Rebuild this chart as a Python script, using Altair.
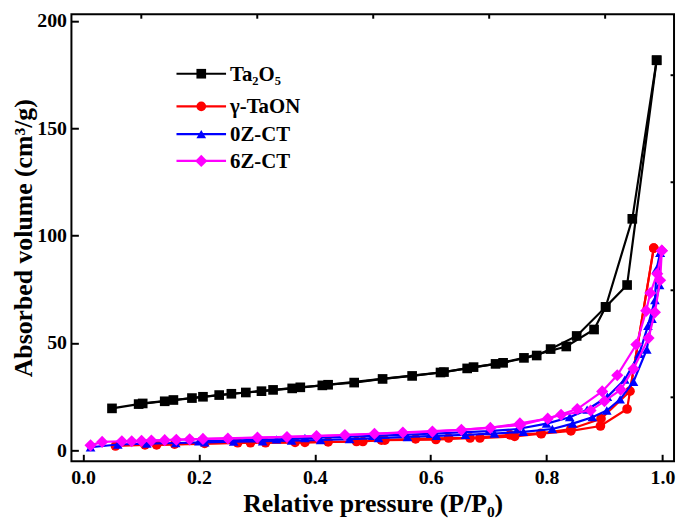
import altair as alt
import pandas as pd

# ---- data ----
series_names = ["Ta₂O₅", "γ-TaON", "0Z-CT", "6Z-CT"]
series_colors = ["#000000", "#ff0000", "#0000ff", "#ff00ff"]
series_shapes = ["square", "circle", "triangle-up", "diamond"]
series_sizes = [95, 95, 95, 150]

# Ta2O5
ta_ads_p = [0.050, 0.096, 0.141, 0.188, 0.235, 0.281, 0.328, 0.375, 0.423, 0.468, 0.517,
            0.568, 0.617, 0.663, 0.712, 0.761, 0.834, 0.882, 0.902, 0.939, 0.990]
ta_ads_v = [19.6, 21.6, 22.9, 24.4, 25.8, 27.0, 28.2, 29.4, 30.6, 31.6, 33.3,
            34.7, 36.3, 38.2, 40.3, 43.1, 48.4, 56.3, 66.8, 77.0, 181.6]
ta_des_p = [0.990, 0.948, 0.902, 0.852, 0.807, 0.783, 0.725, 0.674, 0.623, 0.413,
            0.361, 0.308, 0.256, 0.207, 0.156, 0.103]
ta_des_v = [181.6, 107.8, 66.8, 53.3, 47.2, 44.2, 40.8, 38.8, 36.5, 30.3,
            28.9, 27.6, 26.4, 25.0, 23.5, 21.9]

# gamma-TaON
tn_ads_p = [0.056, 0.107, 0.158, 0.210, 0.267, 0.315, 0.366, 0.423, 0.472, 0.521, 0.574,
            0.631, 0.685, 0.745, 0.791, 0.842, 0.893, 0.939, 0.985]
tn_ads_v = [2.1, 2.6, 3.0, 3.3, 3.6, 3.6, 3.8, 4.0, 4.2, 4.8, 5.4,
            5.8, 5.8, 6.6, 7.8, 9.1, 11.4, 19.3, 94.2]
tn_des_p = [0.985, 0.944, 0.894, 0.842, 0.790, 0.737, 0.668, 0.609, 0.515, 0.483,
            0.383, 0.289, 0.127]
tn_des_v = [94.2, 27.6, 14.8, 10.0, 8.0, 7.3, 5.8, 5.1, 4.8, 4.2, 3.8, 3.6, 2.6]

# 0Z-CT
z0_ads_p = [0.013, 0.060, 0.110, 0.160, 0.210, 0.260, 0.310, 0.360, 0.410, 0.460, 0.510,
            0.560, 0.610, 0.660, 0.710, 0.760, 0.810, 0.845, 0.879, 0.904, 0.927, 0.950,
            0.973, 0.982, 0.995, 0.996]
z0_ads_v = [1.5, 2.8, 3.2, 3.5, 3.8, 4.1, 4.3, 4.6, 4.9, 5.3, 5.8,
            6.3, 6.8, 7.3, 7.9, 8.7, 10.0, 12.5, 15.5, 18.6, 23.8, 32.0,
            47.0, 61.3, 77.0, 92.0]
z0_des_p = [0.996, 0.990, 0.987, 0.975, 0.960, 0.935, 0.905, 0.870, 0.840, 0.800,
            0.750, 0.700, 0.600, 0.500, 0.383, 0.334, 0.200]
z0_des_v = [92.0, 84.5, 70.0, 58.0, 45.0, 33.0, 25.0, 19.0, 15.5, 12.5,
            10.0, 9.0, 7.8, 6.8, 5.8, 5.2, 4.3]

# 6Z-CT
z6_ads_p = [0.013, 0.033, 0.067, 0.101, 0.141, 0.184, 0.250, 0.352, 0.452, 0.552, 0.653,
            0.754, 0.825, 0.876, 0.900, 0.928, 0.950, 0.976, 0.987, 0.996, 0.999]
z6_ads_v = [2.4, 4.0, 4.3, 4.5, 4.8, 5.2, 5.6, 6.3, 7.2, 8.4, 9.6,
            11.8, 16.6, 18.6, 23.0, 28.3, 38.0, 52.3, 64.3, 79.2, 93.0]
z6_des_p = [0.999, 0.991, 0.979, 0.972, 0.955, 0.922, 0.896, 0.853, 0.802, 0.754,
            0.703, 0.603, 0.503, 0.403, 0.301, 0.207, 0.161, 0.118, 0.084]
z6_des_v = [93.0, 82.2, 73.3, 65.0, 49.3, 35.0, 27.5, 19.3, 14.8, 12.6,
            10.5, 8.8, 7.8, 6.7, 6.0, 5.4, 5.0, 4.6, 4.3]

x_major = [0.0, 0.2, 0.4, 0.6, 0.8, 1.0]
x_minor = [0.1, 0.3, 0.5, 0.7, 0.9]
y_major = [0, 50, 100, 150, 200]
y_minor = [25, 75, 125, 175]

branches = [
    (ta_ads_p, ta_ads_v, ta_des_p, ta_des_v),
    (tn_ads_p, tn_ads_v, tn_des_p, tn_des_v),
    (z0_ads_p, z0_ads_v, z0_des_p, z0_des_v),
    (z6_ads_p, z6_ads_v, z6_des_p, z6_des_v),
]

FONT = "Liberation Serif"
xs = alt.Scale(domain=[-0.02, 1.02], nice=False, zero=False)
ys = alt.Scale(domain=[-5, 203], nice=False, zero=False)

main_x_axis = alt.Axis(values=x_major, format=".1f", title="Relative pressure (P/P₀)",
                       tickSize=7, offset=-7, tickWidth=2, tickColor="black", domain=False,
                       grid=False, labelPadding=6, labelFont=FONT, labelFontSize=20,
                       labelFontWeight="bold", labelColor="black", titleFont=FONT,
                       titleFontSize=26, titleFontWeight="bold", titleColor="black",
                       titlePadding=4)
main_y_axis = alt.Axis(values=y_major, format="d", title="Absorbed volume (cm³/g)",
                       tickSize=7, offset=-7, tickWidth=2, tickColor="black", domain=False,
                       grid=False, labelPadding=5, labelFont=FONT, labelFontSize=20,
                       labelFontWeight="bold", labelColor="black", titleFont=FONT,
                       titleFontSize=26, titleFontWeight="bold", titleColor="black",
                       titlePadding=0)
minor_x_axis = alt.Axis(values=x_minor, labels=False, title=None, tickSize=4, offset=-4,
                        tickWidth=2, tickColor="black", domain=False, grid=False)
minor_y_axis = alt.Axis(values=y_minor, labels=False, title=None, tickSize=4, offset=-4,
                        tickWidth=2, tickColor="black", domain=False, grid=False)

layers = []
for i, (ap, av, dp, dv) in enumerate(branches):
    rows = []
    for k, (p, v) in enumerate(zip(ap, av)):
        rows.append({"P": p, "V": v, "branch": "ads", "idx": k})
    for k, (p, v) in enumerate(zip(dp, dv)):
        rows.append({"P": p, "V": v, "branch": "des", "idx": k})
    d = pd.DataFrame(rows)
    xa = main_x_axis if i == 0 else None
    ya = main_y_axis if i == 0 else None
    line = alt.Chart(d).mark_line(color=series_colors[i], strokeWidth=2.2).encode(
        x=alt.X("P:Q", scale=xs, axis=xa),
        y=alt.Y("V:Q", scale=ys, axis=ya),
        detail="branch:N",
        order="idx:Q",
    )
    pts = alt.Chart(d).mark_point(filled=True, opacity=1, color=series_colors[i],
                                  shape=series_shapes[i], size=series_sizes[i]).encode(
        x=alt.X("P:Q", scale=xs, axis=None),
        y=alt.Y("V:Q", scale=ys, axis=None),
    )
    layers += [line, pts]

minor = alt.Chart(pd.DataFrame({"P": ta_ads_p, "V": ta_ads_v})).mark_point(opacity=0).encode(
    x=alt.X("P:Q", scale=xs, axis=minor_x_axis),
    y=alt.Y("V:Q", scale=ys, axis=minor_y_axis),
)
layers.append(minor)

# ---- manual legend ----
leg_y = [60, 93, 121, 148]
one = pd.DataFrame({"a": [0]})
for i, name in enumerate(series_names):
    layers.append(alt.Chart(one).mark_rule(color=series_colors[i], strokeWidth=2.2).encode(
        x=alt.value(106), x2=alt.value(156), y=alt.value(leg_y[i])))
    layers.append(alt.Chart(one).mark_point(filled=True, opacity=1, color=series_colors[i],
                                            shape=series_shapes[i], size=series_sizes[i]).encode(
        x=alt.value(131), y=alt.value(leg_y[i])))
    layers.append(alt.Chart(one).mark_text(align="left", baseline="middle", font=FONT,
                                           fontSize=21, fontWeight="bold", color="black").encode(
        x=alt.value(160), y=alt.value(leg_y[i] + 1), text=alt.value(name)))

chart = alt.layer(*layers).resolve_axis(x="independent", y="independent").properties(
    width=608, height=451, autosize="none",
    padding={"left": 64, "top": 4, "right": 3, "bottom": 60},
).configure_view(stroke="black", strokeWidth=2)

chart.save("out.html", embed_options={"renderer": "svg", "actions": False})
